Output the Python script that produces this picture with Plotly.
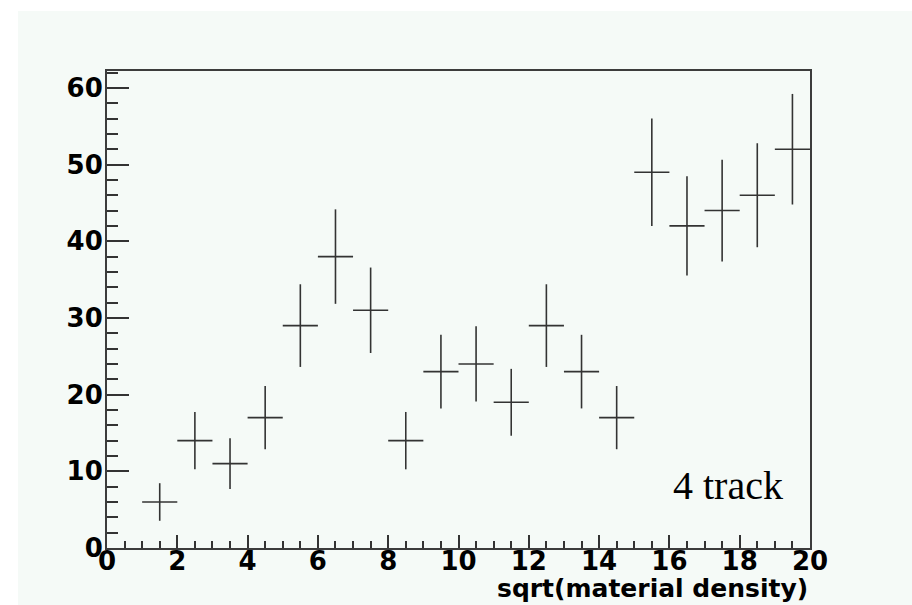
import plotly.graph_objects as go

# Histogram content: bin centres, counts and statistical errors
bin_centers = [1.5, 2.5, 3.5, 4.5, 5.5, 6.5, 7.5, 8.5, 9.5, 10.5,
               11.5, 12.5, 13.5, 14.5, 15.5, 16.5, 17.5, 18.5, 19.5]
counts = [6, 14, 11, 17, 29, 38, 31, 14, 23, 24,
          19, 29, 23, 17, 49, 42, 44, 46, 52]
count_errors = [2.45, 3.74, 3.32, 4.12, 5.39, 6.16, 5.57, 3.74, 4.80, 4.90,
                4.36, 5.39, 4.80, 4.12, 7.00, 6.48, 6.63, 6.78, 7.21]
bin_half_width = [0.5] * len(bin_centers)

x_title = "sqrt(material density)"
label_text = "4 track"

BG = "#f5faf7"
INK = "#333333"

fig = go.Figure()
fig.add_trace(go.Scatter(
    x=bin_centers, y=counts, mode="markers",
    marker=dict(size=1, color=INK, opacity=0),
    error_x=dict(type="data", array=bin_half_width, symmetric=True,
                 color=INK, thickness=1.6, width=0),
    error_y=dict(type="data", array=count_errors, symmetric=True,
                 color=INK, thickness=1.6, width=0),
    showlegend=False, hoverinfo="skip",
))

tick_font = dict(family="DejaVu Sans", size=26, color="black", weight="bold")

fig.update_xaxes(
    range=[0, 20], dtick=2, tick0=0,
    ticks="inside", ticklen=13, tickwidth=1.5, tickcolor=INK,
    minor=dict(dtick=0.5, tick0=0, ticks="inside", ticklen=7,
               tickwidth=1.5, tickcolor=INK),
    showline=True, linecolor="#3c3c3c", linewidth=2, mirror=True,
    showgrid=False, zeroline=False, tickfont=tick_font,
    ticklabelstandoff=-11,
)
fig.update_yaxes(
    range=[0, 62.2], dtick=10, tick0=0,
    ticks="inside", ticklen=22, tickwidth=1.5, tickcolor=INK,
    minor=dict(dtick=2, tick0=0, ticks="inside", ticklen=11,
               tickwidth=1.5, tickcolor=INK),
    showline=True, linecolor="#3c3c3c", linewidth=2, mirror=True,
    showgrid=False, zeroline=False, tickfont=tick_font,
    ticklabelstandoff=-3,
)

# tinted canvas behind the frame
fig.add_shape(type="rect", xref="paper", yref="paper",
              x0=-0.1266, x1=1.2, y0=-0.3, y1=1.1258,
              fillcolor=BG, line=dict(width=0), layer="below")

fig.add_annotation(
    text=x_title, xref="paper", yref="paper", x=1.0, y=-0.084,
    xanchor="right", yanchor="middle", showarrow=False,
    font=dict(family="DejaVu Sans", size=25, color="black", weight="bold"),
)
fig.add_annotation(
    text=label_text, xref="x", yref="y", x=16.05, y=8.1,
    xanchor="left", yanchor="middle", showarrow=False,
    font=dict(family="Liberation Serif", size=40, color="black"),
)

fig.update_layout(
    width=912, height=605,
    margin=dict(l=107, r=102, t=71, b=57),
    paper_bgcolor="white", plot_bgcolor=BG,
)

fig.write_html("out.html")
